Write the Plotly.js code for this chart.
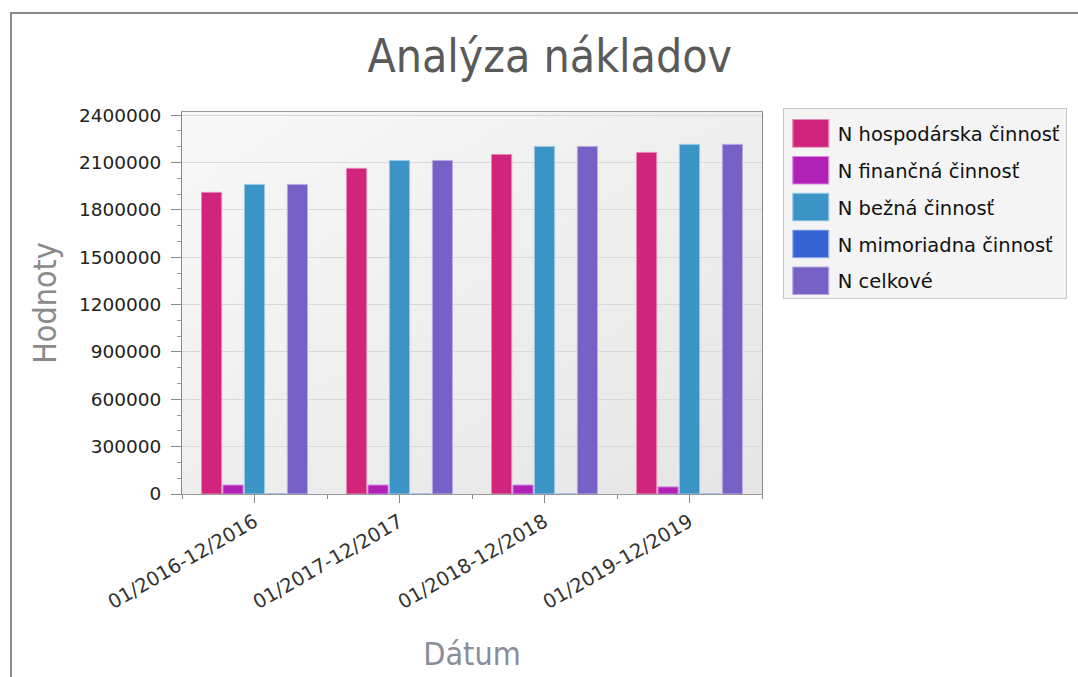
<!DOCTYPE html>
<html>
<head>
<meta charset="utf-8">
<script src="https://cdn.plot.ly/plotly-3.0.1.min.js"></script>
<style>
  html, body { margin: 0; padding: 0; background: #ffffff; }
  #chart { width: 1078px; height: 677px; }
  #frame { position: absolute; left: 10px; top: 12px; width: 1080px; height: 680px;
           border-left: 2px solid #8a8a8a; border-top: 2px solid #8a8a8a; pointer-events: none; }
</style>
</head>
<body>
<div id="chart"></div>
<div id="frame"></div>
<script>
// ---- data ----
const categories = ["01/2016-12/2016", "01/2017-12/2017", "01/2018-12/2018", "01/2019-12/2019"];
const seriesNames = ["N hospodárska činnosť", "N finančná činnosť", "N bežná činnosť", "N mimoriadna činnosť", "N celkové"];
const hospodarska = [1911000, 2063000, 2151000, 2164000];
const financna    = [57000, 57000, 57000, 45000];
const bezna       = [1961000, 2113000, 2202000, 2215000];
const mimoriadna  = [0, 0, 0, 0];
const celkove     = [1961000, 2113000, 2202000, 2215000];
const yTicks = [0, 300000, 600000, 900000, 1200000, 1500000, 1800000, 2100000, 2400000];

const seriesValues = [hospodarska, financna, bezna, mimoriadna, celkove];
const colors = ["#d1257d", "#b022b6", "#3b94c6", "#3764d2", "#7760c6"];
const lineColors = ["#e689b6", "#d88ae0", "#9cc9e4", "#9bb2ea", "#b8ace2"];

const xIdx = categories.map((c, i) => i);
const font = "'DejaVu Sans', sans-serif";
const narrow = "'DejaVu Sans Condensed', 'Liberation Sans Narrow', 'Liberation Sans', sans-serif";

const gradientSvg = "data:image/svg+xml;charset=utf-8," + encodeURIComponent(
  '<svg xmlns="http://www.w3.org/2000/svg" width="100" height="100" preserveAspectRatio="none">' +
  '<defs><linearGradient id="g" x1="0" y1="0" x2="1" y2="1">' +
  '<stop offset="0" stop-color="#f8f8f8"/><stop offset="1" stop-color="#e5e5e5"/>' +
  '</linearGradient></defs><rect width="100" height="100" fill="url(#g)"/></svg>');

const traces = seriesNames.map((name, k) => ({
  type: "bar",
  name: name,
  x: xIdx,
  y: seriesValues[k],
  legendgroup: "g" + k,
  marker: { color: colors[k], line: { color: lineColors[k], width: 1 } },
  hoverinfo: "y+name"
}));

const layout = {
  width: 1078, height: 677,
  paper_bgcolor: "rgba(0,0,0,0)",
  plot_bgcolor: "#eeeeee",
  margin: { l: 182, r: 315, t: 112, b: 183 },
  barmode: "group",
  bargap: 0.26,
  bargroupgap: 0.06,
  images: [{
    source: gradientSvg, xref: "paper", yref: "paper",
    x: 0, y: 1, sizex: 1, sizey: 1, sizing: "stretch",
    xanchor: "left", yanchor: "top", layer: "below"
  }],
  title: {
    text: "Analýza nákladov",
    font: { family: narrow, size: 46, color: "#5a5a5a" },
    x: 0.51, xanchor: "center", y: 0.918, yanchor: "middle"
  },
  xaxis: {
    type: "linear",
    range: [-0.5, categories.length - 0.5],
    tickvals: xIdx,
    ticktext: categories,
    tickangle: -30,
    ticks: "outside", ticklen: 8, tickcolor: "#888",
    minor: { tick0: -0.5, dtick: 1, ticks: "outside", ticklen: 4, tickcolor: "#888", showgrid: false },
    showgrid: false, zeroline: false,
    showline: true, linecolor: "#999", linewidth: 1, mirror: true,
    tickfont: { family: font, size: 19.5, color: "#333" },
    title: { text: "Dátum", font: { family: narrow, size: 32, color: "#8a8d98" }, standoff: 29 }
  },
  yaxis: {
    range: [0, 2420000],
    tickvals: yTicks,
    ticktext: yTicks.map(v => String(v)),
    ticks: "outside", ticklen: 10, tickcolor: "#888",
    ticklabelstandoff: 6,
    minor: { dtick: 100000, ticks: "outside", ticklen: 4, tickcolor: "#999", showgrid: false },
    showgrid: true, gridcolor: "#d9d9d9", gridwidth: 1,
    zeroline: false,
    showline: true, linecolor: "#888", linewidth: 1, mirror: true,
    tickfont: { family: font, size: 18.5, color: "#222" },
    title: { text: "Hodnoty", font: { family: narrow, size: 32, color: "#8a8a8a" }, standoff: 12 }
  },
  legend: {
    x: 1.034, xanchor: "left", y: 1.01, yanchor: "top",
    bgcolor: "#f4f4f4", bordercolor: "#c8c8c8", borderwidth: 1,
    font: { family: font, size: 19.5, color: "#111" },
    traceorder: "grouped", tracegroupgap: 8.5,
    itemwidth: 44
  },
  showlegend: true
};

Plotly.newPlot("chart", traces, layout, { displayModeBar: false, staticPlot: true }).then(gd => {
  // enlarge legend swatches to the reference's wide squares
  document.querySelectorAll(".legend .legendpoints path").forEach(p => {
    p.setAttribute("transform", (p.getAttribute("transform") || "") + " scale(3,2.3)");
    p.style.strokeWidth = "0.4px";
  });
  // a little more top padding inside the legend box, as in the reference
  const sb = document.querySelector(".legend .scrollbox");
  if (sb) sb.setAttribute("transform", (sb.getAttribute("transform") || "") + " translate(0,5)");
  const bg = document.querySelector(".legend rect.bg");
  if (bg) bg.setAttribute("height", parseFloat(bg.getAttribute("height")) + 3);
});
</script>
</body>
</html>
